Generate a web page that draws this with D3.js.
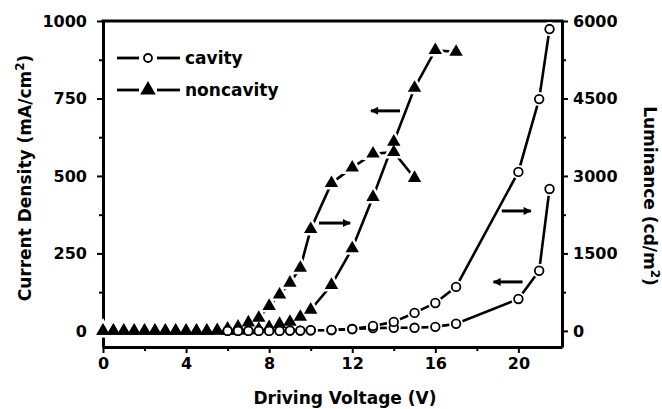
<!DOCTYPE html>
<html>
<head>
<meta charset="utf-8">
<script src="https://cdn.jsdelivr.net/npm/d3@7"></script>
<style>
body { margin: 0; background: #fff; }
svg text { font-family: "DejaVu Sans", sans-serif; font-weight: bold; fill: #000; }
</style>
</head>
<body>
<div id="chart"></div>
<script>
// Data
var nonCurV = [0, 0.5, 1, 1.5, 2, 2.5, 3, 3.5, 4, 4.5, 5, 5.5, 6, 6.5, 7, 7.5, 8, 8.5, 9, 9.5, 10, 11, 12, 13, 14, 15, 16, 17];
var nonCur = [0, 0, 0, 0, 0, 0, 0, 0, 0, 0, 0, 0, 0, 1, 2, 6, 12, 22, 29, 45, 68, 148, 266, 432, 610, 784, 906, 900];

var nonLumV = [0, 0.5, 1, 1.5, 2, 2.5, 3, 3.5, 4, 4.5, 5, 5.5, 6, 6.5, 7, 7.5, 8, 8.5, 9, 9.5, 10, 11, 12, 13, 14, 15];
var nonLum = [0, 0, 0, 0, 0, 0, 0, 0, 0, 0, 0, 10, 40, 80, 160, 250, 480, 700, 930, 1220, 1970, 2860, 3160, 3430, 3460, 2960];

var cavV = [6, 6.5, 7, 7.5, 8, 8.5, 9, 9.5, 10, 11, 12, 13, 14, 15, 16, 17, 20, 21, 21.5];
var cavCur = [0, 0, 0, 0, 0, 0, 1, 1, 2, 3, 6, 9, 10, 10, 13, 23, 103, 194, 458];
var cavLum = [0, 0, 0, 0, 0, 0, 6, 6, 12, 18, 36, 96, 174, 348, 540, 852, 3078, 4488, 5844];

var xTicks = [0, 4, 8, 12, 16, 20];
var xMinor = [2, 6, 10, 14, 18];
var yLeftTicks = [0, 250, 500, 750, 1000];
var yLeftMinor = [125, 375, 625, 875];
var yRightTicks = [0, 1500, 3000, 4500, 6000];
var yRightMinor = [750, 2250, 3750, 5250];

// arrows: voltage from -> to, height in mA/cm2 units
var arrowFrom = [14.3, 10.4, 19.2, 20.2];
var arrowTo = [12.9, 11.9, 20.6, 18.8];
var arrowAt = [710, 348, 387, 158];

// SVG
var svgWidth = 662;
var svgHeight = 409;

var margin = { top: 21, right: 100, bottom: 62, left: 103 };
var width = svgWidth - margin.left - margin.right;
var height = svgHeight - margin.top - margin.bottom;

var svg = d3.select("#chart")
    .append("svg")
    .attr("width", svgWidth)
    .attr("height", svgHeight);

var defs = svg.append("defs");
defs.append("marker")
    .attr("id", "head")
    .attr("markerUnits", "userSpaceOnUse")
    .attr("viewBox", "0 0 10 10")
    .attr("refX", 9)
    .attr("refY", 5)
    .attr("markerWidth", 9)
    .attr("markerHeight", 8)
    .attr("orient", "auto")
    .append("path")
    .attr("d", "M0,0 L10,5 L0,10 Z")
    .attr("fill", "#000");

var g = svg.append("g")
    .attr("transform", `translate(${margin.left}, ${margin.top})`);

// Scales
var x = d3.scaleLinear().domain([0, 22.1]).range([0, width]);
var yL = d3.scaleLinear().domain([-52, 1000]).range([height, 0]);
var yR = d3.scaleLinear().domain([-312, 6000]).range([height, 0]);

// Axes
function styleAxis(sel) {
    sel.select(".domain").attr("stroke-width", 3);
    sel.selectAll(".tick line").attr("stroke-width", 2);
    sel.selectAll(".tick text").style("font-size", "16px");
}

var axisB = g.append("g")
    .attr("transform", `translate(0, ${height})`)
    .call(d3.axisBottom(x).tickValues(xTicks).tickSize(6).tickSizeOuter(0).tickPadding(5).tickFormat(d3.format("d")));
styleAxis(axisB);
g.append("g")
    .attr("transform", `translate(0, ${height})`)
    .call(d3.axisBottom(x).tickValues(xMinor).tickSize(4).tickFormat(""))
    .call(s => s.select(".domain").remove())
    .selectAll("line").attr("stroke-width", 2);

var axisL = g.append("g")
    .call(d3.axisLeft(yL).tickValues(yLeftTicks).tickSize(6).tickSizeOuter(0).tickPadding(10).tickFormat(d3.format("d")));
styleAxis(axisL);
g.append("g")
    .call(d3.axisLeft(yL).tickValues(yLeftMinor).tickSize(4).tickFormat(""))
    .call(s => s.select(".domain").remove())
    .selectAll("line").attr("stroke-width", 2);

var axisR = g.append("g")
    .attr("transform", `translate(${width}, 0)`)
    .call(d3.axisRight(yR).tickValues(yRightTicks).tickSize(6).tickSizeOuter(0).tickPadding(5).tickFormat(d3.format("d")));
styleAxis(axisR);
g.append("g")
    .attr("transform", `translate(${width}, 0)`)
    .call(d3.axisRight(yR).tickValues(yRightMinor).tickSize(4).tickFormat(""))
    .call(s => s.select(".domain").remove())
    .selectAll("line").attr("stroke-width", 2);

// top frame
g.append("line")
    .attr("x1", -1.5).attr("x2", width + 1.5)
    .attr("y1", 0).attr("y2", 0)
    .attr("stroke", "#000").attr("stroke-width", 3);

// Series
var series = [
    { xs: nonCurV, ys: nonCur, y: yL, shape: "tri" },
    { xs: nonLumV, ys: nonLum, y: yR, shape: "tri" },
    { xs: cavV, ys: cavCur, y: yL, shape: "circ" },
    { xs: cavV, ys: cavLum, y: yR, shape: "circ" }
];

var tri = d3.symbol().type(d3.symbolTriangle).size(78);

series.forEach(s => {
    var pts = s.xs.map((v, i) => [x(v), s.y(s.ys[i])]);
    s.pts = pts;
    g.append("path")
        .attr("d", d3.line()(pts))
        .attr("fill", "none")
        .attr("stroke", "#000")
        .attr("stroke-width", 2.6);
});

// white halos so the lines stop short of the markers
series.forEach(s => {
    s.pts.forEach(p => {
        if (s.shape === "tri") {
            g.append("path").attr("d", tri())
                .attr("transform", `translate(${p[0]}, ${p[1]})`)
                .attr("fill", "#fff").attr("stroke", "#fff").attr("stroke-width", 5);
        } else {
            g.append("circle").attr("cx", p[0]).attr("cy", p[1]).attr("r", 7).attr("fill", "#fff");
        }
    });
});

series.forEach(s => {
    s.pts.forEach(p => {
        if (s.shape === "tri") {
            g.append("path").attr("d", tri())
                .attr("transform", `translate(${p[0]}, ${p[1]})`)
                .attr("fill", "#000");
        } else {
            g.append("circle").attr("cx", p[0]).attr("cy", p[1]).attr("r", 4.3)
                .attr("fill", "#fff").attr("stroke", "#000").attr("stroke-width", 1.8);
        }
    });
});

// Arrows
arrowFrom.forEach((v, i) => {
    g.append("line")
        .attr("x1", x(v)).attr("x2", x(arrowTo[i]))
        .attr("y1", yL(arrowAt[i])).attr("y2", yL(arrowAt[i]))
        .attr("stroke", "#000").attr("stroke-width", 3)
        .attr("marker-end", "url(#head)");
});

// Legend
var legend = svg.append("g");
[{ label: "cavity", shape: "circ", y: 58 }, { label: "noncavity", shape: "tri", y: 90 }].forEach(d => {
    legend.append("line").attr("x1", 117).attr("x2", 139).attr("y1", d.y).attr("y2", d.y)
        .attr("stroke", "#000").attr("stroke-width", 2.8);
    legend.append("line").attr("x1", 157).attr("x2", 180).attr("y1", d.y).attr("y2", d.y)
        .attr("stroke", "#000").attr("stroke-width", 2.8);
    if (d.shape === "circ") {
        legend.append("circle").attr("cx", 148).attr("cy", d.y).attr("r", 4)
            .attr("fill", "#fff").attr("stroke", "#000").attr("stroke-width", 1.8);
    } else {
        legend.append("path").attr("d", d3.symbol().type(d3.symbolTriangle).size(105)())
            .attr("transform", `translate(148, ${d.y})`).attr("fill", "#000");
    }
    legend.append("text").attr("x", 185).attr("y", d.y + 6)
        .style("font-size", "17px").text(d.label);
});

// Axis titles
svg.append("text")
    .attr("x", 345).attr("y", 404)
    .attr("text-anchor", "middle")
    .style("font-size", "17px")
    .text("Driving Voltage (V)");

var tl = svg.append("text")
    .attr("transform", "translate(31, 178) rotate(-90)")
    .attr("text-anchor", "middle")
    .style("font-size", "17px");
tl.append("tspan").text("Current Density (mA/cm");
tl.append("tspan").attr("dy", -7).style("font-size", "12px").text("2");
tl.append("tspan").attr("dy", 7).text(")");

var tr = svg.append("text")
    .attr("transform", "translate(644, 196) rotate(90)")
    .attr("text-anchor", "middle")
    .style("font-size", "17px");
tr.append("tspan").text("Luminance (cd/m");
tr.append("tspan").attr("dy", -7).style("font-size", "12px").text("2");
tr.append("tspan").attr("dy", 7).text(")");
</script>
</body>
</html>
